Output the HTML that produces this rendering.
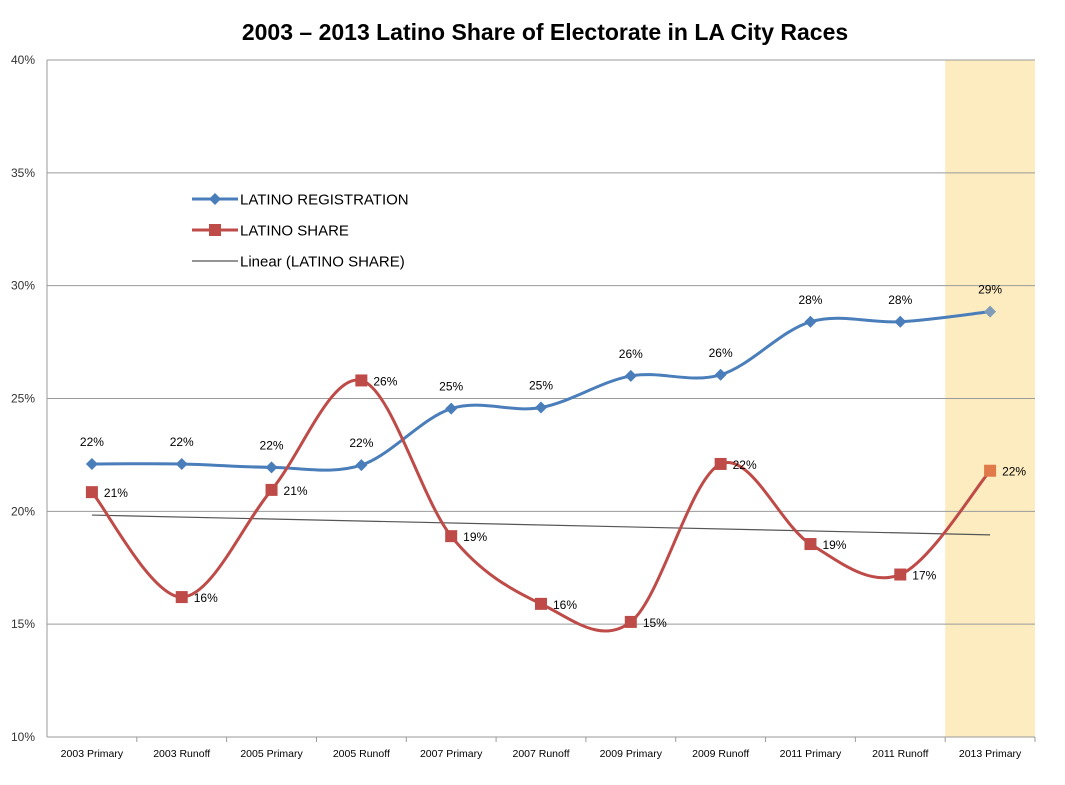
<!DOCTYPE html>
<html><head><meta charset="utf-8">
<style>
html,body{margin:0;padding:0;background:#fff;}
svg{display:block;font-family:"Liberation Sans",sans-serif;}
</style></head>
<body>
<svg id="chart" width="1065" height="785">
  <rect x="0" y="0" width="1065" height="785" fill="#fff"/>
  <text x="545" y="40" text-anchor="middle" font-size="23" font-weight="bold" fill="#000">2003 – 2013 Latino Share of Electorate in LA City Races</text>
  <g id="plot"></g>
  <g>
    <g>
      <line x1="192" y1="199" x2="238" y2="199" stroke="#4a7ebb" stroke-width="3"/>
      <path d="M215 193 L221 199 L215 205 L209 199 Z" fill="#4a7ebb"/>
      <text x="240" y="204.5" font-size="15" fill="#000">LATINO REGISTRATION</text>
    </g>
    <g>
      <line x1="192" y1="230" x2="238" y2="230" stroke="#be4b48" stroke-width="3"/>
      <rect x="209" y="224" width="12" height="12" fill="#be4b48"/>
      <text x="240" y="235.5" font-size="15" fill="#000">LATINO SHARE</text>
    </g>
    <g>
      <line x1="192" y1="261" x2="238" y2="261" stroke="#555" stroke-width="1.2"/>
      <text x="240" y="266.5" font-size="15" fill="#000">Linear (LATINO SHARE)</text>
    </g>
  </g>
</svg>
<script>
const categories = ["2003 Primary","2003 Runoff","2005 Primary","2005 Runoff","2007 Primary","2007 Runoff","2009 Primary","2009 Runoff","2011 Primary","2011 Runoff","2013 Primary"];
const registration = [22.1,22.1,21.95,22.05,24.55,24.6,26.0,26.05,28.4,28.4,28.85];
const share = [20.85,16.2,20.95,25.8,18.9,15.9,15.1,22.1,18.55,17.2,21.8];
const regLabels = ["22%","22%","22%","22%","25%","25%","26%","26%","28%","28%","29%"];
const shareLabels = ["21%","16%","21%","26%","19%","16%","15%","22%","19%","17%","22%"];
const yTicks = [10,15,20,25,30,35,40];
const yTickLabels = ["10%","15%","20%","25%","30%","35%","40%"];

const NS="http://www.w3.org/2000/svg";
const plot=document.getElementById('plot');
const X0=47, X1=1035, Y0=737, Y1=60, YMIN=10, YMAX=40;
const band=(X1-X0)/categories.length;
function xs(i){return X0+band*(i+0.5);}
function ys(v){return Y0-(v-YMIN)/(YMAX-YMIN)*(Y0-Y1);}
function mk(tag,attrs,parent){const e=document.createElementNS(NS,tag);for(const k in attrs)e.setAttribute(k,attrs[k]);(parent||plot).appendChild(e);return e;}

const hl=mk('rect',{x:X0+band*10,y:Y1,width:band,height:Y0-Y1,fill:'#fdecc0'});



yTicks.forEach((t,i)=>{
  const g=mk('line',{x1:X0,x2:X1,y1:ys(t),y2:ys(t),stroke:'#9a9a9a','stroke-width':1});
  
  
  const tx=mk('text',{x:35,y:ys(t)+4,'text-anchor':'end','font-size':12,fill:'#333'});
  tx.textContent=yTickLabels[i];
  
  
});
mk('line',{x1:X0,x2:X0,y1:Y1,y2:Y0,stroke:'#9a9a9a'});
categories.forEach((c,i)=>{
  mk('line',{x1:X0+band*(i+1),x2:X0+band*(i+1),y1:Y0,y2:Y0+5,stroke:'#9a9a9a'});
  const tx=mk('text',{x:xs(i),y:757,'text-anchor':'middle','font-size':10.5,fill:'#000'});
  tx.textContent=c;
  
  
});

function smooth(vals){
  const p=vals.map((v,i)=>[xs(i),ys(v)]);
  let d='M'+p[0][0]+' '+p[0][1];
  for(let i=0;i<p.length-1;i++){
    const p0=p[i-1]||p[i],p1=p[i],p2=p[i+1],p3=p[i+2]||p2;
    const c1=[p1[0]+(p2[0]-p0[0])/6,p1[1]+(p2[1]-p0[1])/6];
    const c2=[p2[0]-(p3[0]-p1[0])/6,p2[1]-(p3[1]-p1[1])/6];
    d+=` C${c1[0]} ${c1[1]} ${c2[0]} ${c2[1]} ${p2[0]} ${p2[1]}`;
  }
  return d;
}

const n=share.length;let sx=0,sy=0,sxy=0,sxx=0;
share.forEach((v,i)=>{sx+=i;sy+=v;sxy+=i*v;sxx+=i*i;});
const slope=(n*sxy-sx*sy)/(n*sxx-sx*sx), icpt=(sy-slope*sx)/n;
const tr=mk('line',{x1:xs(0),y1:ys(icpt),x2:xs(n-1),y2:ys(icpt+slope*(n-1)),stroke:'#555','stroke-width':1.2});



const rl=mk('path',{d:smooth(registration),fill:'none',stroke:'#4a7ebb','stroke-width':3});


const sl=mk('path',{d:smooth(share),fill:'none',stroke:'#be4b48','stroke-width':3});



registration.forEach((v,i)=>{
  const x=xs(i),y=ys(v);
  const m=mk('path',{d:`M${x} ${y-6} L${x+6} ${y} L${x} ${y+6} L${x-6} ${y} Z`,fill:i==10?'#7f9cb8':'#4a7ebb'});
  
  
  const t=mk('text',{x:x,y:y-18,'text-anchor':'middle','font-size':12,fill:'#000'});
  t.textContent=regLabels[i];
  
  
});
share.forEach((v,i)=>{
  const x=xs(i),y=ys(v);
  const m=mk('rect',{x:x-6,y:y-6,width:12,height:12,fill:i==10?'#e07a4a':'#be4b48'});
  
  
  const t=mk('text',{x:x+12,y:y+5,'font-size':12,fill:'#000'});
  t.textContent=shareLabels[i];
  
  
});
</script>
</body></html>
